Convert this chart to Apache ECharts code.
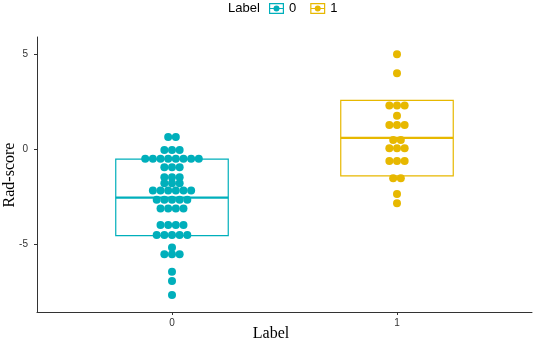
<!DOCTYPE html>
<html>
<head>
<meta charset="utf-8">
<script src="https://cdn.jsdelivr.net/npm/echarts@6/dist/echarts.min.js"></script>
<style>
  html, body { margin: 0; padding: 0; background: #fff; }
  #chart { width: 536px; height: 344px; }
</style>
</head>
<body>
<div id="chart"></div>
<script>
// categories and colours
const groups = ['0', '1']
const groupColors = ['#00AFBB', '#E7B800']

// Rad-score of every dot (dotplot bins)
const label0Values = [
  0.63, 0.63,
  -0.05, -0.05, -0.05,
  -0.51, -0.51, -0.51, -0.51, -0.51, -0.51, -0.51, -0.51,
  -0.96, -0.96, -0.96,
  -1.49, -1.49, -1.49,
  -1.81, -1.81, -1.81,
  -2.19, -2.19, -2.19, -2.19, -2.19, -2.19,
  -2.67, -2.67, -2.67, -2.67, -2.67,
  -3.13, -3.13, -3.13, -3.13,
  -4.0, -4.0, -4.0, -4.0,
  -4.53, -4.53, -4.53, -4.53, -4.53,
  -5.19,
  -5.54, -5.54, -5.54,
  -6.46,
  -6.95,
  -7.68
]
const label1Values = [
  4.98,
  3.98,
  2.28, 2.28, 2.28,
  1.74,
  1.26, 1.26, 1.26,
  0.47, 0.47,
  0.04, 0.04, 0.04,
  -0.63, -0.63, -0.63,
  -1.54, -1.54,
  -2.37,
  -2.86
]

// box: lower hinge, middle, upper hinge
const boxLow = [-4.56, -1.42]
const boxMid = [-2.56, 0.58]
const boxHigh = [-0.54, 2.56]

const dotStep = 0.034
const boxHalf = 0.25

// centre the dots of each bin around the group position
function layoutDots(values, center) {
  const counts = {}
  values.forEach(v => { counts[v] = (counts[v] || 0) + 1 })
  const seen = {}
  return values.map(v => {
    const i = seen[v] || 0
    seen[v] = i + 1
    return [center + (i - (counts[v] - 1) / 2) * dotStep, v]
  })
}

const sans = "'Liberation Sans', Arial, sans-serif"
const serif = "'Liberation Serif', 'Times New Roman', serif"
const legendIcon = 'path://M0,0 H15 V11 H0 Z M1.2,1.2 V9.8 H13.8 V1.2 Z M1.2,5 H13.8 V6 H1.2 Z M4.5,5.5 A3,3 0 1,1 10.5,5.5 A3,3 0 1,1 4.5,5.5 Z'

const chart = echarts.init(document.getElementById('chart'))

const option = {
  animation: false,
  grid: { left: 37, right: 4, top: 37, bottom: 32, outerBoundsMode: 'none' },
  legend: {
    data: groups,
    left: 269,
    top: 2,
    padding: 0,
    itemWidth: 15,
    itemHeight: 11,
    itemGap: 14,
    icon: legendIcon,
    textStyle: { fontFamily: sans, fontSize: 13, color: '#000' }
  },
  graphic: [
    {
      type: 'text', x: 228, y: 8,
      style: { text: 'Label', font: '13px ' + sans, fill: '#000', verticalAlign: 'middle' }
    },
    {
      type: 'text', x: 271, y: 334,
      style: { text: 'Label', font: '16px ' + serif, fill: '#000', align: 'center', verticalAlign: 'middle' }
    },
    {
      type: 'text', x: 10, y: 175, rotation: Math.PI / 2,
      style: { text: 'Rad-score', font: '16px ' + serif, fill: '#000', align: 'center', verticalAlign: 'middle' }
    }
  ],
  xAxis: {
    type: 'value',
    min: -0.6,
    max: 1.6,
    splitLine: { show: false },
    axisLine: { onZero: false, lineStyle: { color: '#333', width: 1 } },
    axisTick: { customValues: [0, 1], length: 3, lineStyle: { color: '#333' } },
    axisLabel: {
      customValues: [0, 1],
      formatter: v => groups[Math.round(v)],
      margin: 6,
      fontFamily: sans,
      fontSize: 10,
      color: '#333'
    }
  },
  yAxis: {
    type: 'value',
    min: -8.58,
    max: 5.89,
    splitLine: { show: false },
    axisLine: { show: true, onZero: false, lineStyle: { color: '#333', width: 1 } },
    axisTick: { show: true, customValues: [-5, 0, 5], length: 3, lineStyle: { color: '#333' } },
    axisLabel: {
      customValues: [-5, 0, 5],
      margin: 9,
      fontFamily: sans,
      fontSize: 10,
      color: '#333'
    }
  },
  series: [
    {
      type: 'custom',
      z: 1,
      data: groups.map((g, i) => [i, boxLow[i], boxMid[i], boxHigh[i]]),
      renderItem: (params, api) => {
        const x = api.value(0)
        const color = groupColors[params.dataIndex]
        const tl = api.coord([x - boxHalf, api.value(3)])
        const br = api.coord([x + boxHalf, api.value(1)])
        const m1 = api.coord([x - boxHalf, api.value(2)])
        const m2 = api.coord([x + boxHalf, api.value(2)])
        return {
          type: 'group',
          children: [
            {
              type: 'rect',
              shape: { x: tl[0], y: tl[1], width: br[0] - tl[0], height: br[1] - tl[1] },
              style: { fill: 'none', stroke: color, lineWidth: 1.2 }
            },
            {
              type: 'line',
              shape: { x1: m1[0], y1: m1[1], x2: m2[0], y2: m2[1] },
              style: { stroke: color, lineWidth: 2.2 }
            }
          ]
        }
      }
    },
    {
      name: '0',
      type: 'scatter',
      z: 3,
      symbolSize: 8,
      itemStyle: { color: groupColors[0], opacity: 1 },
      data: layoutDots(label0Values, 0)
    },
    {
      name: '1',
      type: 'scatter',
      z: 3,
      symbolSize: 8,
      itemStyle: { color: groupColors[1], opacity: 1 },
      data: layoutDots(label1Values, 1)
    }
  ]
}

chart.setOption(option)
</script>
</body>
</html>
